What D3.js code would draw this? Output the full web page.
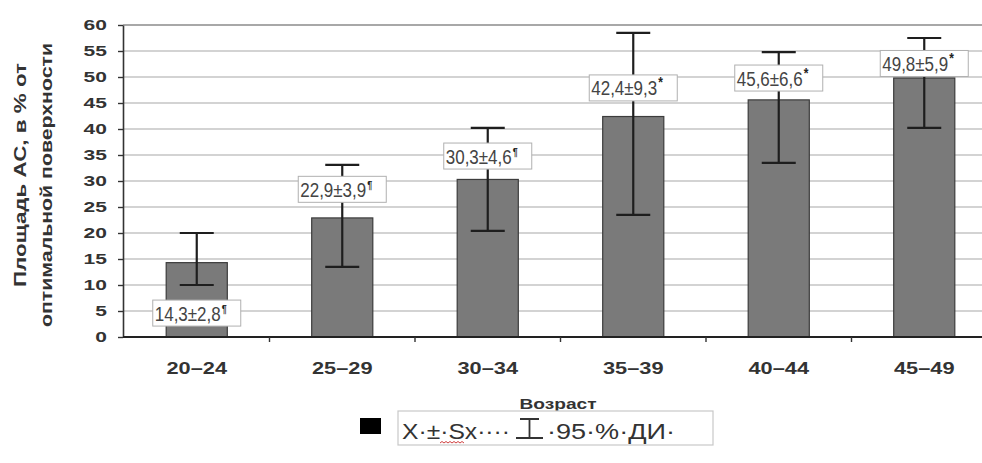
<!DOCTYPE html>
<html><head><meta charset="utf-8">
<script src="https://cdn.jsdelivr.net/npm/d3@7/dist/d3.min.js"></script>
<style>body{margin:0;background:#fff}svg{display:block;font-family:"Liberation Sans",Arial,sans-serif}</style>
</head><body>
<svg id="c" width="982" height="463"></svg>
<script>
// ---- data ----
const categories = ["20–24","25–29","30–34","35–39","40–44","45–49"];
const means = [14.3, 22.9, 30.3, 42.4, 45.6, 49.8];
const ciLower = [10.0, 13.5, 20.4, 23.5, 33.5, 40.2];
const ciUpper = [20.0, 33.1, 40.2, 58.5, 54.8, 57.5];
const labelTexts = ["14,3±2,8","22,9±3,9","30,3±4,6","42,4±9,3","45,6±6,6","49,8±5,9"];
const labelMarks = ["¶","¶","¶","*","*","*"];
const labelLevels = [4.6, 28.4, 34.8, 47.9, 49.8, 52.6];
const yTicks = [0,5,10,15,20,25,30,35,40,45,50,55,60];
const yTitleLines = ["Площадь АС, в % от", "оптимальной поверхности"];
const xTitle = "Возраст";
const legendLeft = "X·±·Sx····";
const legendRight = "·95·%·ДИ·";

// ---- layout ----
const W = 982, H = 463;
const svg = d3.select("#c");
svg.append("rect").attr("width", W).attr("height", H).attr("fill", "#fff");

const x = d3.scaleBand().domain(categories).range([124, 997]).paddingInner(0.58).paddingOuter(0.29);
const y = d3.scaleLinear().domain([0, 60]).range([337, 25]);
const data = categories.map((c, i) => ({c, m: means[i], lo: ciLower[i], hi: ciUpper[i], t: labelTexts[i], mk: labelMarks[i], lv: labelLevels[i]}));

// gridlines
svg.append("g").selectAll("line").data(yTicks.filter(d => d > 0)).join("line")
  .attr("x1", 123).attr("x2", W).attr("y1", d => y(d)).attr("y2", d => y(d))
  .attr("stroke", d => d === 60 ? "#a8a8a8" : "#c4c4c4").attr("stroke-width", d => d === 60 ? 2 : 1.6);

// bars
svg.append("g").selectAll("rect").data(data).join("rect")
  .attr("x", d => x(d.c)).attr("width", x.bandwidth())
  .attr("y", d => y(d.m)).attr("height", d => y(0) - y(d.m))
  .attr("fill", "#7a7a7a").attr("stroke", "#3c3c3c").attr("stroke-width", 1.2);

// error bars
const cap = 17;
const eb = svg.append("g").attr("stroke", "#1e1e1e").attr("stroke-width", 2.2);
data.forEach(d => {
  const cx = x(d.c) + x.bandwidth() / 2;
  eb.append("line").attr("x1", cx).attr("x2", cx).attr("y1", y(d.lo)).attr("y2", y(d.hi));
  eb.append("line").attr("x1", cx - cap).attr("x2", cx + cap).attr("y1", y(d.lo)).attr("y2", y(d.lo));
  eb.append("line").attr("x1", cx - cap).attr("x2", cx + cap).attr("y1", y(d.hi)).attr("y2", y(d.hi));
});

// value labels (one text element each: value + superscript mark)
const lg = svg.append("g");
data.forEach(d => {
  const cx = x(d.c) + x.bandwidth() / 2;
  const cy = y(d.lv);
  lg.append("rect").attr("x", cx - 44).attr("y", cy - 13).attr("width", 88).attr("height", 26)
    .attr("fill", "#fff").attr("stroke", "#b0b0b0").attr("stroke-width", 1);
  const t = lg.append("text").attr("transform", `translate(${cx - 42},${cy + 7.5}) scale(1,1.15)`)
    .attr("font-size", 17).attr("fill", "#444");
  t.append("tspan").text(d.t);
  t.append("tspan").attr("dx", 1).attr("dy", -7).attr("font-size", d.mk === "*" ? 12 : 9)
    .attr("font-weight", "bold").attr("fill", "#222").text(d.mk);
});

// y axis
const ya = svg.append("g").attr("transform", "translate(123,0)")
  .call(d3.axisLeft(y).tickValues(yTicks).tickSize(5).tickSizeOuter(0).tickPadding(6.5));
ya.select(".domain").attr("stroke", "#333").attr("stroke-width", 1.6);
ya.selectAll(".tick line").attr("stroke", "#333").attr("stroke-width", 1.4);
ya.selectAll(".tick text").attr("font-size", 15).attr("font-weight", "bold").attr("fill", "#333")
  .attr("font-family", "Liberation Sans, Arial, sans-serif").attr("transform", "scale(1.4,1)");

// x axis
const xa = svg.append("g").attr("transform", `translate(0,${y(0)})`)
  .call(d3.axisBottom(x).tickSize(0).tickSizeOuter(0).tickPadding(25));
xa.select(".domain").attr("d", `M123,0H${W}`).attr("stroke", "#222").attr("stroke-width", 1.8);
xa.selectAll(".tick text").attr("font-size", 16.5).attr("font-weight", "bold").attr("fill", "#333")
  .attr("font-family", "Liberation Sans, Arial, sans-serif").attr("transform", "scale(1.32,1)");
// category boundary ticks
xa.append("g").selectAll("line").data(categories.slice(1)).join("line")
  .attr("x1", d => x(d) - x.step() * x.paddingInner() / 2).attr("x2", d => x(d) - x.step() * x.paddingInner() / 2)
  .attr("y1", 0).attr("y2", 5).attr("stroke", "#333").attr("stroke-width", 1.4);

// axis titles
svg.append("text").attr("transform", "translate(26,175) rotate(-90)").attr("text-anchor", "middle")
  .attr("font-size", 17).attr("font-weight", "bold").attr("fill", "#333")
  .attr("textLength", 224).attr("lengthAdjust", "spacingAndGlyphs").text(yTitleLines[0]);
svg.append("text").attr("transform", "translate(52,185) rotate(-90)").attr("text-anchor", "middle")
  .attr("font-size", 17).attr("font-weight", "bold").attr("fill", "#333")
  .attr("textLength", 284).attr("lengthAdjust", "spacingAndGlyphs").text(yTitleLines[1]);
svg.append("text").attr("x", 558).attr("y", 409).attr("text-anchor", "middle")
  .attr("font-size", 15.5).attr("font-weight", "bold").attr("fill", "#333")
  .attr("textLength", 77).attr("lengthAdjust", "spacingAndGlyphs").text(xTitle);

// legend
const leg = svg.append("g");
leg.append("rect").attr("x", 360).attr("y", 418).attr("width", 21).attr("height", 16).attr("fill", "#000");
leg.append("rect").attr("x", 398).attr("y", 411).attr("width", 315).attr("height", 34)
  .attr("fill", "#fff").attr("stroke", "#c8c8c8").attr("stroke-width", 1.2);
leg.append("text").attr("x", 402).attr("y", 439).attr("font-size", 22).attr("fill", "#333")
  .attr("textLength", 108).attr("lengthAdjust", "spacingAndGlyphs").text(legendLeft);
// red spell-check squiggle under "Sx"
leg.append("path").attr("d", "M440,443 l2,-1.5 l2,1.5 l2,-1.5 l2,1.5 l2,-1.5 l2,1.5 l2,-1.5 l2,1.5 l2,-1.5 l2,1.5 l2,-1.5 l2,1.5")
  .attr("fill", "none").attr("stroke", "#d04040").attr("stroke-width", 1);
// error-bar symbol
leg.append("path").attr("d", "M516,438H543M529.5,438V419M520,419H539")
  .attr("fill", "none").attr("stroke", "#333").attr("stroke-width", 1.8);
leg.append("text").attr("x", 547).attr("y", 439).attr("font-size", 22).attr("fill", "#333")
  .attr("textLength", 128).attr("lengthAdjust", "spacingAndGlyphs").text(legendRight);
</script>
</body></html>
